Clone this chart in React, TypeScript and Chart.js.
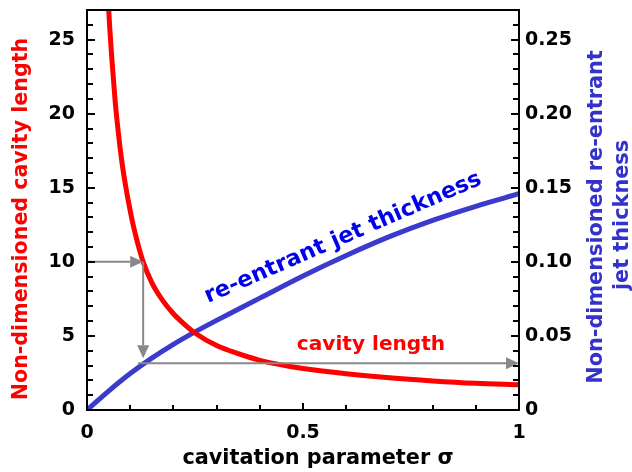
import React, { useEffect, useRef } from "react";
import { Chart, registerables } from "chart.js";

Chart.register(...registerables);

// cavitation parameter sigma
const cavitySigma = [0.048, 0.052, 0.057, 0.065, 0.073, 0.081, 0.089, 0.097, 0.106, 0.116, 0.13, 0.15, 0.175, 0.2, 0.225, 0.25, 0.3, 0.35, 0.4, 0.45, 0.5, 0.6, 0.7, 0.8, 0.9, 1.0];
const cavityLength = [28.3, 26.1, 23.9, 20.9, 18.6, 16.7, 15.2, 13.9, 12.6, 11.4, 10, 8.6, 7.4, 6.5, 5.8, 5.2, 4.35, 3.8, 3.35, 3.05, 2.8, 2.45, 2.17, 1.96, 1.8, 1.7];

const jetSigma = [0, 0.05, 0.1, 0.15, 0.2, 0.25, 0.3, 0.35, 0.4, 0.5, 0.6, 0.7, 0.8, 0.9, 1.0];
const jetThickness = [0, 0.0128, 0.0246, 0.035, 0.0443, 0.0527, 0.0605, 0.068, 0.0755, 0.0905, 0.1043, 0.117, 0.128, 0.1375, 0.146];

// arrows: [x0, y0, x1, y1] in (sigma, cavity length) units
const arrows = [
  [0, 10, 0.13, 10],
  [0.13, 10, 0.13, 3.5],
  [0.118, 3.16, 1.0, 3.16],
];

const xTicks = [0, 0.5, 1];
const leftTicks = [0, 5, 10, 15, 20, 25];
const rightTicks = [0, 0.05, 0.1, 0.15, 0.2, 0.25];

const FONT = "'DejaVu Sans', sans-serif";

function fitText(ctx: CanvasRenderingContext2D, text: string, target: number, base: number) {
  ctx.font = `bold ${base}px ${FONT}`;
  const w = ctx.measureText(text).width;
  const size = Math.max(10, Math.min(base * 1.3, (base * target) / w));
  return `bold ${size.toFixed(1)}px ${FONT}`;
}

function drawText(ctx: CanvasRenderingContext2D, text: string, x: number, y: number, angle: number, target: number, base: number, color: string) {
  ctx.save();
  ctx.translate(x, y);
  ctx.rotate(angle);
  ctx.font = fitText(ctx, text, target, base);
  ctx.fillStyle = color;
  ctx.textAlign = "center";
  ctx.textBaseline = "middle";
  ctx.fillText(text, 0, 0);
  ctx.restore();
}

const decorPlugin = {
  id: "decor",
  afterDatasetsDraw(chart: any) {
    const ctx: CanvasRenderingContext2D = chart.ctx;
    const { left, right, top, bottom } = chart.chartArea;
    const xs = chart.scales.x;
    const ys = chart.scales.y;
    const y2 = chart.scales.y2;

    // arrows
    ctx.save();
    ctx.strokeStyle = "#888888";
    ctx.fillStyle = "#888888";
    ctx.lineWidth = 2;
    for (const a of arrows) {
      const x0 = xs.getPixelForValue(a[0]);
      const yy0 = ys.getPixelForValue(a[1]);
      const x1 = xs.getPixelForValue(a[2]);
      const yy1 = ys.getPixelForValue(a[3]);
      const ang = Math.atan2(yy1 - yy0, x1 - x0);
      const hl = 13;
      const hw = 6;
      const bx = x1 - hl * Math.cos(ang);
      const by = yy1 - hl * Math.sin(ang);
      ctx.beginPath();
      ctx.moveTo(x0, yy0);
      ctx.lineTo(bx, by);
      ctx.stroke();
      ctx.beginPath();
      ctx.moveTo(x1, yy1);
      ctx.lineTo(bx - hw * Math.sin(ang), by + hw * Math.cos(ang));
      ctx.lineTo(bx + hw * Math.sin(ang), by - hw * Math.cos(ang));
      ctx.closePath();
      ctx.fill();
    }
    ctx.restore();

    // frame
    ctx.save();
    ctx.strokeStyle = "#000";
    ctx.lineWidth = 2;
    ctx.strokeRect(left, top, right - left, bottom - top);

    // ticks
    ctx.beginPath();
    for (let v = 1; v <= 26; v++) {
      const p = Math.round(ys.getPixelForValue(v));
      const len = v % 5 === 0 ? 8 : 6;
      ctx.moveTo(left, p);
      ctx.lineTo(left + len, p);
    }
    for (let v = 1; v <= 26; v++) {
      const p = Math.round(y2.getPixelForValue(v / 100));
      const len = v % 5 === 0 ? 8 : 6;
      ctx.moveTo(right, p);
      ctx.lineTo(right - len, p);
    }
    for (let v = 1; v <= 9; v++) {
      const p = Math.round(xs.getPixelForValue(v / 10));
      const len = v === 5 ? 7 : 5;
      ctx.moveTo(p, bottom);
      ctx.lineTo(p, bottom - len);
    }
    ctx.stroke();
    ctx.restore();

    // titles and labels
    drawText(ctx, "Non-dimensioned cavity length", 22, 219, -Math.PI / 2, 362, 19, "#ff0000");
    drawText(ctx, "Non-dimensioned re-entrant", 597, 217, -Math.PI / 2, 333, 19, "#3333cc");
    drawText(ctx, "jet thickness", 623, 215, -Math.PI / 2, 150, 19, "#3333cc");
    drawText(ctx, "cavitation parameter \u03c3", 318, 459, 0, 271, 19, "#000000");
    drawText(ctx, "re-entrant jet thickness", 343, 238, -0.41, 300, 20, "#0000ee");
    drawText(ctx, "cavity length", 371, 345, 0, 148, 20, "#ff0000");
  },
};

export default function App() {
  const ref = useRef<HTMLCanvasElement | null>(null);
  useEffect(() => {
    document.body.style.margin = "0";
    const canvas = ref.current!;
    const tickFont = { family: FONT, size: 19, weight: "bold" as const };
    const noPadV = (w: number) => (s: any) => {
      s.width = w;
      s.paddingTop = 0;
      s.paddingBottom = 0;
    };
    const chart = new Chart(canvas, {
      type: "line",
      data: {
        datasets: [
          {
            label: "cavity length",
            data: cavitySigma.map((x, i) => ({ x, y: cavityLength[i] })),
            borderColor: "#ff0000",
            borderWidth: 5,
            pointRadius: 0,
            cubicInterpolationMode: "monotone",
            yAxisID: "y",
            fill: false,
          },
          {
            label: "re-entrant jet thickness",
            data: jetSigma.map((x, i) => ({ x, y: jetThickness[i] })),
            borderColor: "#3a3acc",
            borderWidth: 5,
            pointRadius: 0,
            cubicInterpolationMode: "monotone",
            yAxisID: "y2",
            fill: false,
          },
        ],
      },
      options: {
        responsive: false,
        animation: false,
        layout: { padding: { top: 10, left: 0, right: 0, bottom: 0 } },
        plugins: { legend: { display: false }, tooltip: { enabled: false } },
        scales: {
          x: {
            type: "linear",
            min: 0,
            max: 1,
            grid: { display: false, drawTicks: false },
            border: { display: false },
            afterBuildTicks: (s: any) => {
              s.ticks = xTicks.map((v) => ({ value: v }));
            },
            afterFit: (s: any) => {
              s.height = 62;
              s.paddingLeft = 0;
              s.paddingRight = 0;
            },
            ticks: {
              padding: 12,
              color: "#000",
              font: tickFont,
              maxRotation: 0,
              callback: (v: any) => String(v),
            },
          },
          y: {
            type: "linear",
            position: "left",
            min: 0,
            max: 27,
            grid: { display: false, drawTicks: false },
            border: { display: false },
            afterBuildTicks: (s: any) => {
              s.ticks = leftTicks.map((v) => ({ value: v }));
            },
            afterFit: noPadV(87),
            ticks: { padding: 12, color: "#000", font: tickFont, callback: (v: any) => String(v) },
          },
          y2: {
            type: "linear",
            position: "right",
            min: 0,
            max: 0.27,
            grid: { display: false, drawTicks: false },
            border: { display: false },
            afterBuildTicks: (s: any) => {
              s.ticks = rightTicks.map((v) => ({ value: v }));
            },
            afterFit: noPadV(113),
            ticks: {
              padding: 6,
              color: "#000",
              font: tickFont,
              callback: (v: any) => (Number(v) === 0 ? "0" : Number(v).toFixed(2)),
            },
          },
        },
      } as any,
      plugins: [decorPlugin],
    });
    return () => chart.destroy();
  }, []);
  return (
    <div style={{ width: 632, height: 472, background: "#fff" }}>
      <canvas ref={ref} width={632} height={472} style={{ display: "block" }} />
    </div>
  );
}
